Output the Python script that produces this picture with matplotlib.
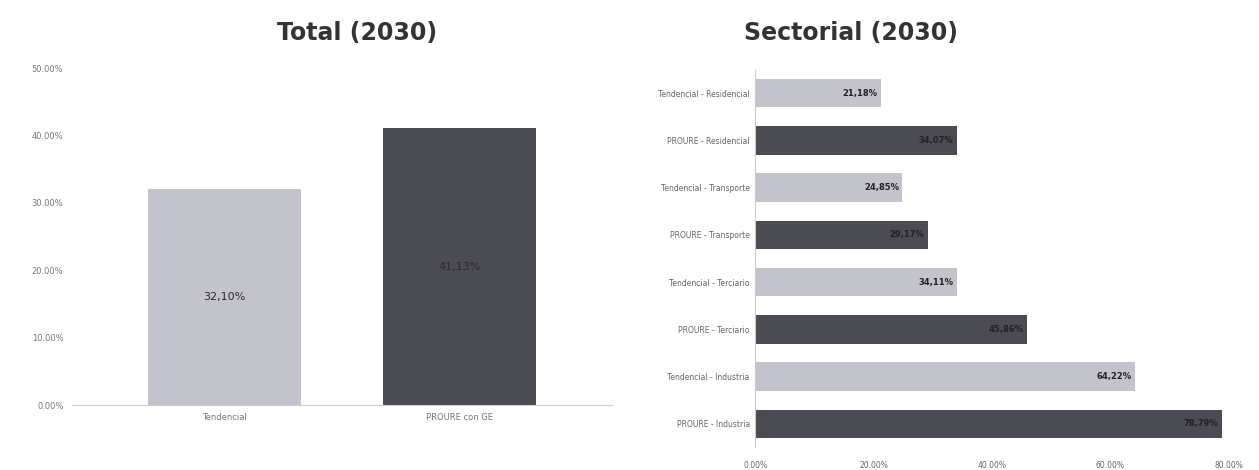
# Total vs sectorial 2030 comparison, two bar panels side by side
import matplotlib
matplotlib.use('Agg')
import matplotlib.pyplot as plt

total_labels = ['Tendencial', 'PROURE con GE']
total_values = [32.10, 41.13]

sector_labels = ['Tendencial - Residencial', 'PROURE - Residencial',
                 'Tendencial - Transporte', 'PROURE - Transporte',
                 'Tendencial - Terciario', 'PROURE - Terciario',
                 'Tendencial - Industria', 'PROURE - Industria']
sector_values = [21.18, 34.07, 24.85, 29.17, 34.11, 45.86, 64.22, 78.79]

light = '#c3c3cb'
dark = '#4b4b53'

fig = plt.figure(figsize=(12.59, 4.70), dpi=100)

# left panel
ax1 = fig.add_axes([0.057, 0.138, 0.4293, 0.717])
x = range(len(total_labels))
ax1.bar(x, total_values, width=0.65, color=[light, dark])
for i, v in enumerate(total_values):
    ax1.text(i, v / 2, ('%.2f%%' % v).replace('.', ','), ha='center', va='center',
             fontsize=8, color='#2a2a2a')
ax1.set_xlim(-0.65, 1.65)
ax1.set_ylim(0, 50)
ax1.set_yticks([0, 10, 20, 30, 40, 50])
ax1.set_yticklabels(['%.2f%%' % t for t in [0, 10, 20, 30, 40, 50]])
ax1.set_xticks(list(x))
ax1.set_xticklabels(total_labels)
ax1.tick_params(axis='both', length=0, labelsize=6, colors='#777777', pad=6)
for s in ['top', 'right', 'left']:
    ax1.spines[s].set_visible(False)
ax1.spines['bottom'].set_color('#cccccc')
fig.text(0.284, 0.93, 'Total (2030)', ha='center', va='center', fontsize=17,
         fontweight='bold', color='#333333')

# right panel
ax2 = fig.add_axes([0.600, 0.048, 0.376, 0.804])
y = range(len(sector_labels))
ax2.barh(y, sector_values, height=0.6,
         color=[light if i % 2 == 0 else dark for i in range(len(sector_values))])
for i, v in enumerate(sector_values):
    ax2.text(v - 0.6, i, ('%.2f%%' % v).replace('.', ','), ha='right', va='center',
             fontsize=6, fontweight='bold', color='#222222')
ax2.set_ylim(7.5, -0.5)
ax2.set_xlim(0, 80)
ax2.set_yticks(list(y))
ax2.set_yticklabels(sector_labels)
ax2.set_xticks([0, 20, 40, 60, 80])
ax2.set_xticklabels(['%.2f%%' % t for t in [0, 20, 40, 60, 80]])
ax2.tick_params(axis='y', length=0, labelsize=5.5, colors='#666666', pad=4)
ax2.tick_params(axis='x', length=0, labelsize=5.5, colors='#666666', pad=10)
for s in ['top', 'right', 'bottom']:
    ax2.spines[s].set_visible(False)
ax2.spines['left'].set_color('#cccccc')
fig.text(0.676, 0.93, 'Sectorial (2030)', ha='center', va='center', fontsize=17,
         fontweight='bold', color='#333333')

fig.savefig('out.png', dpi=100)
